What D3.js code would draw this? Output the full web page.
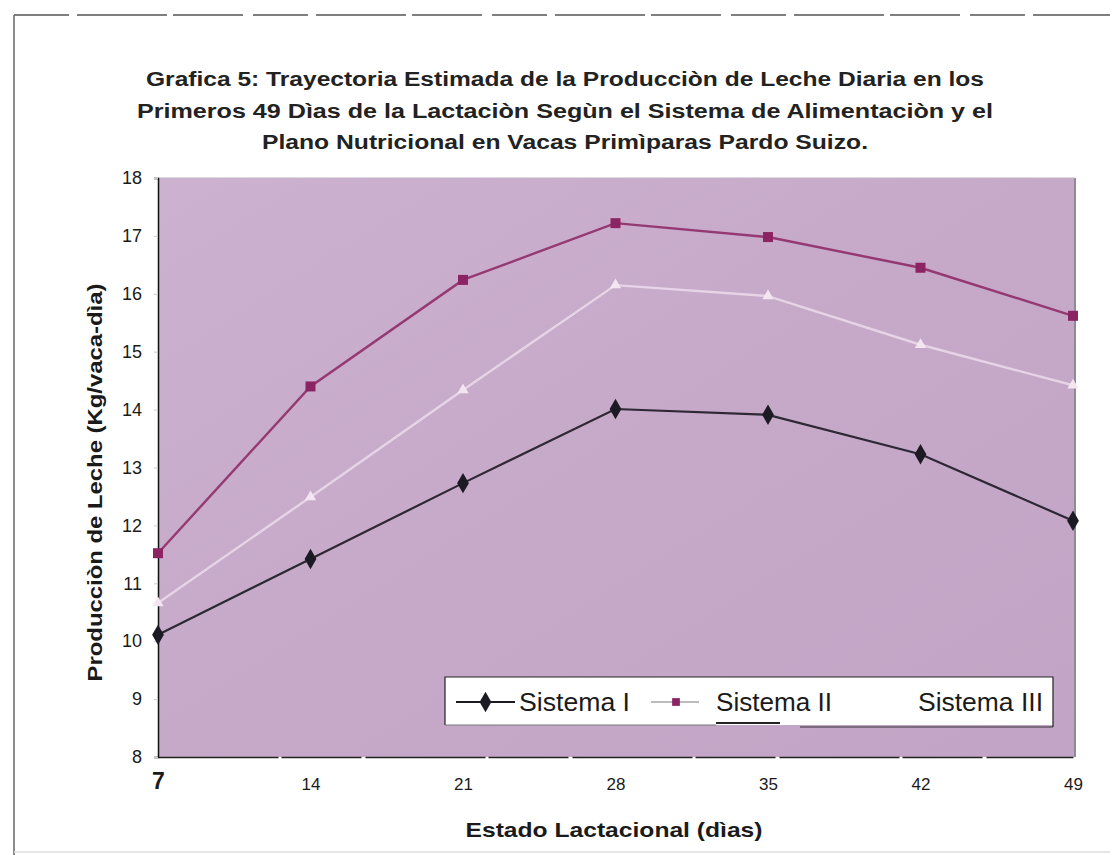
<!DOCTYPE html>
<html>
<head>
<meta charset="utf-8">
<script src="https://cdn.jsdelivr.net/npm/d3@7"></script>
<style>
  html, body { margin: 0; padding: 0; background: #ffffff; }
  svg { display: block; font-family: "Liberation Sans", Arial, sans-serif; }
</style>
</head>
<body>
<svg id="chart" width="1118" height="855"></svg>
<script>
// Lactation days (x) and estimated daily milk yield per system (kg/cow-day)
const dias = [7, 14, 21, 28, 35, 42, 49];
const sistemaI   = [10.11, 11.42, 12.73, 14.01, 13.91, 13.23, 12.08];
const sistemaII  = [11.52, 14.40, 16.24, 17.22, 16.98, 16.45, 15.62];
const sistemaIII = [10.66, 12.49, 14.34, 16.15, 15.96, 15.12, 14.42];
const yTicks = [8, 9, 10, 11, 12, 13, 14, 15, 16, 17, 18];
const seriesNames = ["Sistema I", "Sistema II", "Sistema III"];
const titleLines = [
  "Grafica 5: Trayectoria Estimada de la Producciòn de Leche Diaria en los",
  "Primeros 49 Dìas de la Lactaciòn Segùn el Sistema de Alimentaciòn y el",
  "Plano Nutricional en Vacas Primìparas Pardo Suizo."
];
const titleWidths = [838, 856, 606];

const svg = d3.select("#chart");
const plot = { left: 158, right: 1073, top: 178, bottom: 757 };

const x = d3.scaleLinear().domain([7, 49]).range([plot.left, plot.right]);
const y = d3.scaleLinear().domain([8, 18]).range([plot.bottom, plot.top]);

// outer frame of the figure
svg.append("line").attr("x1", 14).attr("x2", 1110).attr("y1", 15).attr("y2", 15)
  .attr("stroke", "#555").attr("stroke-width", 1.5).attr("stroke-dasharray", "55,8,90,6,70,10");
svg.append("line").attr("x1", 14).attr("x2", 14).attr("y1", 15).attr("y2", 855)
  .attr("stroke", "#666").attr("stroke-width", 1.5);
svg.append("line").attr("x1", 14).attr("x2", 1110).attr("y1", 852).attr("y2", 852)
  .attr("stroke", "#ddd").attr("stroke-width", 1.5);

// title
svg.append("g").selectAll("text").data(titleLines).join("text")
  .attr("x", 565).attr("y", (d, i) => 86 + i * 31.5)
  .attr("text-anchor", "middle")
  .attr("font-size", 20).attr("font-weight", "bold").attr("fill", "#222")
  .attr("textLength", (d, i) => titleWidths[i]).attr("lengthAdjust", "spacingAndGlyphs")
  .text(d => d);

// plot background
const defs = svg.append("defs");
const grad = defs.append("linearGradient").attr("id", "bg").attr("x1", 0).attr("y1", 0).attr("x2", 1).attr("y2", 1);
grad.append("stop").attr("offset", "0%").attr("stop-color", "#cdb1d1");
grad.append("stop").attr("offset", "50%").attr("stop-color", "#c6a9c9");
grad.append("stop").attr("offset", "100%").attr("stop-color", "#c2a5c6");
svg.append("rect")
  .attr("x", plot.left).attr("y", plot.top)
  .attr("width", plot.right - plot.left + 2).attr("height", plot.bottom - plot.top)
  .attr("fill", "url(#bg)");
svg.append("line").attr("x1", plot.right + 2).attr("x2", plot.right + 2)
  .attr("y1", plot.top).attr("y2", plot.bottom)
  .attr("stroke", "#8f8a94").attr("stroke-width", 2);
svg.append("line").attr("x1", plot.left).attr("x2", plot.right + 2)
  .attr("y1", plot.top).attr("y2", plot.top)
  .attr("stroke", "#bfb4c4").attr("stroke-width", 1);

// axes
const yAxis = d3.axisLeft(y).tickValues(yTicks).tickSize(4).tickFormat(d3.format("d"));
const gy = svg.append("g").attr("transform", `translate(${plot.left},0)`).call(yAxis);
gy.attr("font-size", null).attr("font-family", null);
gy.select(".domain").attr("stroke", "#111").attr("stroke-width", 1.5);
gy.selectAll(".tick line").attr("stroke", "#ccc");
gy.selectAll(".tick text").style("font-size", "18px").attr("fill", "#1a1a1a").attr("x", -16);

const xAxis = d3.axisBottom(x).tickValues(dias).tickSize(0).tickFormat(d3.format("d"));
const gx = svg.append("g").attr("transform", `translate(0,${plot.bottom})`).call(xAxis);
gx.attr("font-size", null).attr("font-family", null);
gx.select(".domain").attr("stroke", "#222").attr("stroke-width", 1.5).attr("stroke-dasharray", "120,3,80,4");
gx.selectAll(".tick text").style("font-size", "17px").attr("fill", "#1a1a1a").attr("dy", "1.75em");
gx.selectAll(".tick text").filter(d => d === 7)
  .style("font-size", "23px").attr("font-weight", "bold").attr("dy", "1.25em");

// axis titles
svg.append("text")
  .attr("transform", `translate(102,${(plot.top + plot.bottom) / 2 + 15}) rotate(-90)`)
  .attr("text-anchor", "middle").attr("font-size", 21).attr("font-weight", "bold")
  .attr("textLength", 398).attr("lengthAdjust", "spacingAndGlyphs")
  .attr("fill", "#1a1a1a").text("Producciòn de Leche (Kg/vaca-dìa)");
svg.append("text")
  .attr("x", 614).attr("y", 837).attr("text-anchor", "middle")
  .attr("font-size", 21).attr("font-weight", "bold").attr("fill", "#1a1a1a")
  .attr("textLength", 297).attr("lengthAdjust", "spacingAndGlyphs")
  .text("Estado Lactacional (dìas)");

// series
const line = d3.line().x(d => x(d[0])).y(d => y(d[1]));
const series = [
  { name: seriesNames[0], values: sistemaI,   color: "#1c1a22", width: 2.2, marker: d3.symbolDiamond, size: 120, op: 0.9 },
  { name: seriesNames[1], values: sistemaII,  color: "#8c2463", width: 2.4, marker: d3.symbolSquare,  size: 100, op: 0.85 },
  { name: seriesNames[2], values: sistemaIII, color: "#f3e6f1", width: 2.4, marker: d3.symbolTriangle, size: 55, op: 0.7 }
];

const order = [2, 0, 1];
order.forEach(i => {
  const s = series[i];
  const pts = dias.map((d, j) => [d, s.values[j]]);
  svg.append("path").datum(pts)
    .attr("d", line).attr("fill", "none")
    .attr("stroke", s.color).attr("stroke-width", s.width).attr("opacity", s.op);
  svg.append("g").selectAll("path").data(pts).join("path")
    .attr("transform", d => `translate(${x(d[0])},${y(d[1])})`)
    .attr("d", d3.symbol().type(s.marker).size(s.size))
    .attr("fill", s.color);
});

// legend
const lg = svg.append("g");
lg.append("rect").attr("x", 445).attr("y", 677).attr("width", 608).attr("height", 48)
  .attr("fill", "#ffffff");
lg.append("path")
  .attr("d", "M445,725 L445,677 L1053,677 L1053,727")
  .attr("fill", "none").attr("stroke", "#222").attr("stroke-width", 1.2);
lg.append("line").attr("x1", 445).attr("x2", 716).attr("y1", 725).attr("y2", 725)
  .attr("stroke", "#777").attr("stroke-width", 1.2);
lg.append("line").attr("x1", 716).attr("x2", 780).attr("y1", 723).attr("y2", 723)
  .attr("stroke", "#222").attr("stroke-width", 2.2);
lg.append("line").attr("x1", 800).attr("x2", 1053).attr("y1", 727).attr("y2", 727)
  .attr("stroke", "#333").attr("stroke-width", 1.2);

const legendItems = [
  { s: series[0], x0: 456, x1: 515, tx: 519, tw: 111 },
  { s: series[1], x0: 651, x1: 699, tx: 716, tw: 116 },
  { s: series[2], x0: 860, x1: 910, tx: 918, tw: 125 }
];
legendItems.forEach(it => {
  const ly = 702;
  const col = it.s === series[2] ? "#ffffff" : (it.s === series[1] ? "#bbb" : it.s.color);
  lg.append("line").attr("x1", it.x0).attr("x2", it.x1).attr("y1", ly).attr("y2", ly)
    .attr("stroke", col).attr("stroke-width", 2);
  lg.append("path")
    .attr("transform", `translate(${it.s === series[1] ? 676 : (it.x0 + it.x1) / 2},${ly})`)
    .attr("d", d3.symbol().type(it.s.marker).size(it.s === series[1] ? 60 : it.s.size))
    .attr("fill", it.s === series[2] ? "#ffffff" : it.s.color);
  lg.append("text").attr("x", it.tx).attr("y", ly + 9)
    .attr("font-size", 25).attr("fill", "#1a1a1a")
    .attr("textLength", it.tw).attr("lengthAdjust", "spacingAndGlyphs")
    .text(it.s.name);
});
</script>
</body>
</html>
